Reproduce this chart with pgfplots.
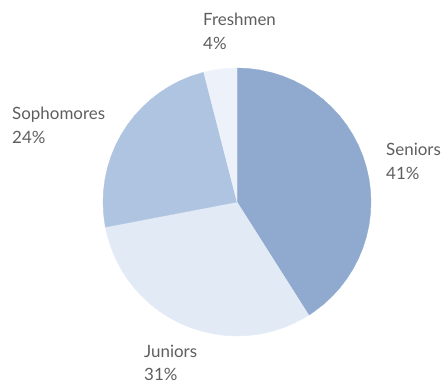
\documentclass[border=0pt]{standalone}
\usepackage{pgfplots}
\pgfplotsset{compat=1.18}
\usepackage{fontspec}
\setmainfont{Lato}
\definecolor{cSen}{HTML}{8FAACE}
\definecolor{cJun}{HTML}{E2EAF6}
\definecolor{cSoph}{HTML}{AEC4E0}
\definecolor{cFresh}{HTML}{EDF2FA}
\definecolor{txt}{HTML}{5E5E5E}
\tikzset{lab/.style={font=\fontsize{17}{24}\selectfont, text=txt, inner sep=0pt, anchor=base west}}
\begin{document}
\begin{tikzpicture}
\begin{axis}[
  scale only axis, width=448bp, height=385bp,
  xmin=-237, xmax=211, ymin=-183, ymax=202,
  hide axis, clip=false,
]
\path (axis cs:-237,-183) rectangle (axis cs:211,202);
% Seniors 41%
\addplot[fill=cSen, draw=cSen, line width=0.3pt, data cs=polar] coordinates {
 (0,0) (90,134) (85,134) (80,134) (75,134) (70,134) (65,134) (60,134) (55,134) (50,134)
 (45,134) (40,134) (35,134) (30,134) (25,134) (20,134) (15,134) (10,134) (5,134) (0,134)
 (-5,134) (-10,134) (-15,134) (-20,134) (-25,134) (-30,134) (-35,134) (-40,134) (-45,134)
 (-50,134) (-55,134) (-57.6,134) (0,0)};
% Juniors 31%
\addplot[fill=cJun, draw=cJun, line width=0.3pt, data cs=polar] coordinates {
 (0,0) (-57.6,134) (-60,134) (-65,134) (-70,134) (-75,134) (-80,134) (-85,134) (-90,134)
 (-95,134) (-100,134) (-105,134) (-110,134) (-115,134) (-120,134) (-125,134) (-130,134)
 (-135,134) (-140,134) (-145,134) (-150,134) (-155,134) (-160,134) (-165,134) (-169.2,134) (0,0)};
% Sophomores 24%
\addplot[fill=cSoph, draw=cSoph, line width=0.3pt, data cs=polar] coordinates {
 (0,0) (-169.2,134) (-170,134) (-175,134) (-180,134) (-185,134) (-190,134) (-195,134)
 (-200,134) (-205,134) (-210,134) (-215,134) (-220,134) (-225,134) (-230,134) (-235,134)
 (-240,134) (-245,134) (-250,134) (-255.6,134) (0,0)};
% Freshmen 4%
\addplot[fill=cFresh, draw=cFresh, line width=0.3pt, data cs=polar] coordinates {
 (0,0) (104.4,134) (100,134) (95,134) (90,134) (0,0)};
\node[lab] at (axis cs:-34,176) {Freshmen};
\node[lab] at (axis cs:-34,152) {4\%};
\node[lab] at (axis cs:-225,82) {Sophomores};
\node[lab] at (axis cs:-225,58) {24\%};
\node[lab] at (axis cs:149,46) {Seniors};
\node[lab] at (axis cs:149,22) {41\%};
\node[lab] at (axis cs:-93,-155) {Juniors};
\node[lab] at (axis cs:-93,-178) {31\%};
\end{axis}
\end{tikzpicture}
\end{document}
